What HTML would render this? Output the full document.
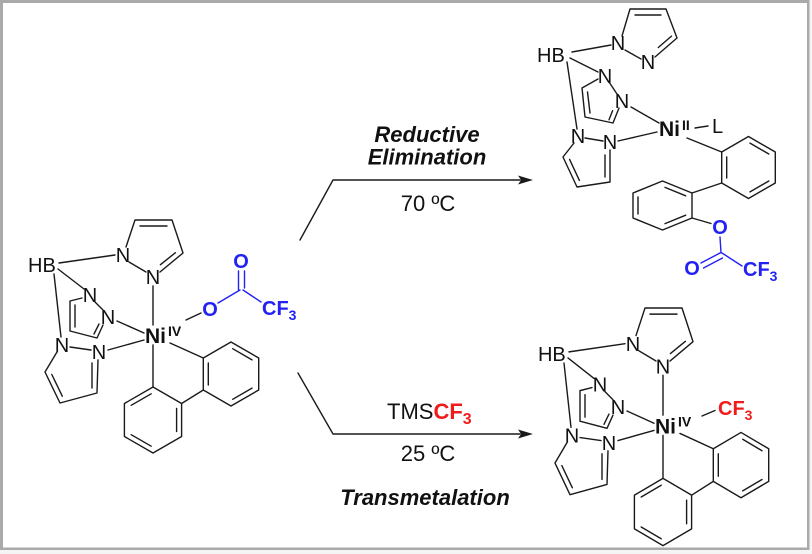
<!DOCTYPE html>
<html>
<head>
<meta charset="utf-8">
<style>
  html, body { margin:0; padding:0; background:#f4f4f4; }
  svg { display:block; }
  .b { stroke:#1a1a1a; stroke-width:1.4; fill:none; stroke-linecap:round; stroke-linejoin:round; }
  .bl { stroke:#2222f5; stroke-width:1.4; fill:none; stroke-linecap:round; }
  text { font-family:"Liberation Sans", Arial, sans-serif; fill:#111; }
  .at { font-size:20px; }
  .ni { font-size:21px; font-weight:bold; }
  .sup { font-size:14px; font-weight:bold; }
  .blue { fill:#2222f5; font-weight:bold; }
  .red { fill:#f01c1c; font-weight:bold; }
  .rx { font-size:22px; }
  .bi { font-size:22px; font-weight:bold; font-style:italic; }
</style>
</head>
<body>
<svg width="812" height="554" viewBox="0 0 812 554" xmlns="http://www.w3.org/2000/svg">
  <rect x="0" y="0" width="812" height="554" fill="#f4f4f4"/>
  <rect x="0" y="0" width="809.5" height="550" fill="#aaaaaa"/>
  <rect x="3" y="3" width="804" height="544.5" fill="#ffffff"/>

  <!-- ============ LEFT STRUCTURE ============ -->
  <g class="b">
    <line x1="59" y1="263" x2="115" y2="255"/>
    <polyline points="126,247 135,220 172,220 183,253 160,272"/>
    <line x1="140" y1="226" x2="167" y2="226"/>
    <line x1="175.4" y1="252.7" x2="160.4" y2="264.7"/>
    <line x1="129" y1="262" x2="146" y2="272"/>
    <line x1="153" y1="286" x2="153" y2="325"/>
    <line x1="58" y1="269" x2="84" y2="289"/>
    <polyline points="82,298 70,301 70,331 97,338 103,325"/>
    <line x1="75" y1="305" x2="75" y2="327"/>
    <line x1="94" y1="334" x2="99" y2="324"/>
    <line x1="95" y1="302" x2="103" y2="310"/>
    <line x1="117" y1="321" x2="144" y2="333"/>
    <line x1="54" y1="274" x2="61" y2="337"/>
    <line x1="70" y1="347" x2="91" y2="350"/>
    <line x1="108" y1="350" x2="144" y2="340"/>
    <polyline points="57,352 45,372 60,403 97,393 98,360"/>
    <line x1="51.8" y1="374.5" x2="62.3" y2="396.2"/>
    <line x1="92" y1="388" x2="92" y2="363"/>
    <line x1="170" y1="343" x2="203.3" y2="358"/>
    <polygon points="231,342 258.7,358 258.7,390 231,406 203.3,390 203.3,358"/>
    <line x1="208.3" y1="363" x2="208.3" y2="385"/>
    <line x1="232.7" y1="348.7" x2="252" y2="359.9"/>
    <line x1="252" y1="388.1" x2="232.7" y2="399.3"/>
    <line x1="153" y1="345" x2="153" y2="387"/>
    <line x1="203.3" y1="390" x2="181.6" y2="403.5"/>
    <polygon points="153,387 181.6,403.5 181.6,436.5 153,453 124.4,436.5 124.4,403.5"/>
    <line x1="131.2" y1="405.3" x2="151.2" y2="393.8"/>
    <line x1="176.6" y1="408.5" x2="176.6" y2="431.5"/>
    <line x1="151.2" y1="446.2" x2="131.2" y2="434.7"/>
    <line x1="186" y1="320" x2="201" y2="313"/>
  </g>
  <g class="bl">
    <line x1="218" y1="303" x2="240" y2="290"/>
    <line x1="238.5" y1="290" x2="238.5" y2="271"/>
    <line x1="244.5" y1="288" x2="244.5" y2="271"/>
    <line x1="243" y1="290" x2="261" y2="302"/>
  </g>
  <text class="at" x="28" y="272">HB</text>
  <text class="at" x="123" y="262" text-anchor="middle">N</text>
  <text class="at" x="153" y="284" text-anchor="middle">N</text>
  <text class="at" x="90" y="302" text-anchor="middle">N</text>
  <text class="at" x="108" y="324" text-anchor="middle">N</text>
  <text class="at" x="62" y="352" text-anchor="middle">N</text>
  <text class="at" x="99" y="359" text-anchor="middle">N</text>
  <text class="ni" x="145" y="343">Ni</text>
  <text class="sup" x="168" y="336">IV</text>
  <text class="at blue" x="210" y="316" text-anchor="middle">O</text>
  <text class="at blue" x="241" y="268" text-anchor="middle">O</text>
  <text class="blue" x="262" y="315" font-size="20">CF<tspan font-size="14" dy="5">3</tspan></text>

  <!-- ============ ARROWS & CONDITIONS ============ -->
  <polyline class="b" points="300,240 333,180 520,180"/>
  <polygon points="533,180 518,175.5 521,180 518,184.5" fill="#1a1a1a"/>
  <polyline class="b" points="298,373 333,434 520,434"/>
  <polygon points="533,434 518,429.5 521,434 518,438.5" fill="#1a1a1a"/>

  <text class="bi" x="427" y="142" text-anchor="middle">Reductive</text>
  <text class="bi" x="427" y="164.5" text-anchor="middle">Elimination</text>
  <text class="rx" x="428" y="211" text-anchor="middle">70 ºC</text>

  <text class="rx" x="387" y="419">TMS<tspan class="red">CF</tspan><tspan class="red" font-size="16" dy="5">3</tspan></text>
  <text class="rx" x="428" y="461" text-anchor="middle">25 ºC</text>
  <text class="bi" x="425" y="505" text-anchor="middle">Transmetalation</text>

  <!-- ============ TOP-RIGHT STRUCTURE (Ni II) ============ -->
  <g class="b">
    <line x1="572" y1="52" x2="611" y2="45"/>
    <polyline points="622,36 630,9 666,9 677,38 655,57"/>
    <line x1="635" y1="15" x2="661" y2="15"/>
    <line x1="671.5" y1="36.1" x2="658.3" y2="47.5"/>
    <line x1="625" y1="50" x2="641" y2="59"/>
    <line x1="570" y1="58" x2="598" y2="72"/>
    <polyline points="598,79 582,88 585,117 613,123 619,108"/>
    <line x1="587.5" y1="92" x2="590" y2="113"/>
    <line x1="609" y1="119.7" x2="612.6" y2="110.7"/>
    <line x1="609" y1="82" x2="617" y2="94"/>
    <line x1="631" y1="107" x2="659" y2="123"/>
    <line x1="567" y1="62" x2="577" y2="129"/>
    <line x1="585" y1="138" x2="603" y2="141"/>
    <line x1="618" y1="141" x2="657" y2="132"/>
    <polyline points="574,143 563,157 577,187 610,182 610,150"/>
    <line x1="569.6" y1="159.4" x2="579.4" y2="180.4"/>
    <line x1="605" y1="177" x2="605" y2="155"/>
    <line x1="695" y1="128" x2="708" y2="126"/>
    <line x1="687" y1="138" x2="721.7" y2="152"/>
    <polygon points="748.5,136.5 775.3,152 775.3,183 748.5,198.5 721.7,183 721.7,152"/>
    <line x1="726.7" y1="157" x2="726.7" y2="178"/>
    <line x1="750" y1="143.1" x2="768.8" y2="154"/>
    <line x1="768.8" y1="181" x2="750" y2="191.9"/>
    <line x1="721.7" y1="183" x2="692" y2="193"/>
    <polygon points="662.5,181 692,193 692,218 662.5,230 633,218 633,193"/>
    <line x1="638" y1="197" x2="638" y2="214"/>
    <line x1="665" y1="187.4" x2="685.7" y2="195.8"/>
    <line x1="685.7" y1="215.2" x2="665" y2="223.6"/>
    <line x1="692" y1="218" x2="711" y2="223.5"/>
  </g>
  <g class="bl">
    <line x1="720" y1="237" x2="721" y2="253"/>
    <line x1="720" y1="253" x2="701" y2="263"/>
    <line x1="722.5" y1="258" x2="703.5" y2="268"/>
    <line x1="722" y1="253" x2="742" y2="266"/>
  </g>
  <text class="at" x="537" y="62">HB</text>
  <text class="at" x="618" y="50" text-anchor="middle">N</text>
  <text class="at" x="648" y="69" text-anchor="middle">N</text>
  <text class="at" x="605" y="83" text-anchor="middle">N</text>
  <text class="at" x="622" y="108" text-anchor="middle">N</text>
  <text class="at" x="578" y="143" text-anchor="middle">N</text>
  <text class="at" x="610" y="149" text-anchor="middle">N</text>
  <text class="ni" x="659" y="136">Ni</text>
  <text class="sup" x="682" y="130">II</text>
  <text class="at" x="712" y="133">L</text>
  <text class="at blue" x="720" y="234" text-anchor="middle">O</text>
  <text class="at blue" x="692" y="275" text-anchor="middle">O</text>
  <text class="blue" x="743" y="276" font-size="20">CF<tspan font-size="14" dy="5">3</tspan></text>

  <!-- ============ BOTTOM-RIGHT STRUCTURE (Ni IV CF3) ============ -->
  <g transform="translate(510,88) translate(0,220) scale(1,1.02) translate(0,-220)">
    <g class="b">
      <line x1="59" y1="263" x2="115" y2="255"/>
      <polyline points="126,247 135,220 172,220 183,253 160,272"/>
      <line x1="140" y1="226" x2="167" y2="226"/>
      <line x1="175.4" y1="252.7" x2="160.4" y2="264.7"/>
      <line x1="129" y1="262" x2="146" y2="272"/>
      <line x1="153" y1="286" x2="153" y2="325"/>
      <line x1="58" y1="269" x2="84" y2="289"/>
      <polyline points="82,298 70,301 70,331 97,338 103,325"/>
      <line x1="75" y1="305" x2="75" y2="327"/>
      <line x1="94" y1="334" x2="99" y2="324"/>
      <line x1="95" y1="302" x2="103" y2="310"/>
      <line x1="117" y1="321" x2="144" y2="333"/>
      <line x1="54" y1="274" x2="61" y2="337"/>
      <line x1="70" y1="347" x2="91" y2="350"/>
      <line x1="108" y1="350" x2="144" y2="340"/>
      <polyline points="57,352 45,372 60,403 97,393 98,360"/>
      <line x1="51.8" y1="374.5" x2="62.3" y2="396.2"/>
      <line x1="92" y1="388" x2="92" y2="363"/>
      <line x1="170" y1="343" x2="203.3" y2="358"/>
      <polygon points="231,342 258.7,358 258.7,390 231,406 203.3,390 203.3,358"/>
      <line x1="208.3" y1="363" x2="208.3" y2="385"/>
      <line x1="232.7" y1="348.7" x2="252" y2="359.9"/>
      <line x1="252" y1="388.1" x2="232.7" y2="399.3"/>
      <line x1="153" y1="345" x2="153" y2="387"/>
      <line x1="203.3" y1="390" x2="181.6" y2="403.5"/>
      <polygon points="153,387 181.6,403.5 181.6,436.5 153,453 124.4,436.5 124.4,403.5"/>
      <line x1="131.2" y1="405.3" x2="151.2" y2="393.8"/>
      <line x1="176.6" y1="408.5" x2="176.6" y2="431.5"/>
      <line x1="151.2" y1="446.2" x2="131.2" y2="434.7"/>
    </g>
    <text class="at" x="28" y="272">HB</text>
    <text class="at" x="123" y="262" text-anchor="middle">N</text>
    <text class="at" x="153" y="284" text-anchor="middle">N</text>
    <text class="at" x="90" y="302" text-anchor="middle">N</text>
    <text class="at" x="108" y="324" text-anchor="middle">N</text>
    <text class="at" x="62" y="352" text-anchor="middle">N</text>
    <text class="at" x="99" y="359" text-anchor="middle">N</text>
    <text class="ni" x="145" y="343">Ni</text>
    <text class="sup" x="168" y="336">IV</text>
  </g>
  <line class="b" x1="702" y1="416" x2="715" y2="410.5"/>
  <text class="red" x="718" y="415" font-size="20">CF<tspan font-size="14" dy="5">3</tspan></text>
</svg>
</body>
</html>
